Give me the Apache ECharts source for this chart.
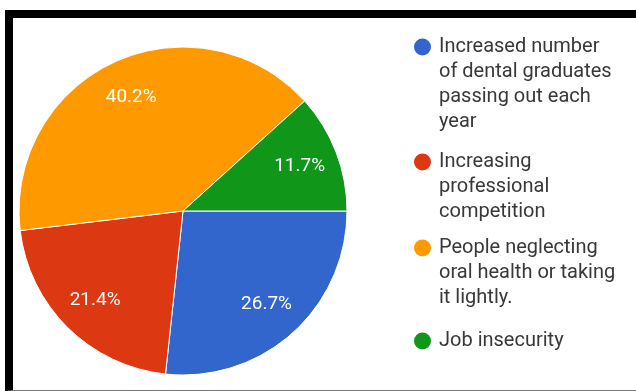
<!DOCTYPE html>
<html>
<head>
<meta charset="utf-8">
<title>Pie chart</title>
<script src="https://cdn.jsdelivr.net/npm/echarts@6/dist/echarts.min.js"></script>
<style>
  html, body { margin: 0; padding: 0; background: #fff; }
  #wrap { position: relative; width: 636px; height: 391px; overflow: hidden; }
  #chart { position: absolute; left: 0; top: 0; width: 636px; height: 391px; }
  #frame {
    position: absolute; left: 5px; top: 10px; width: 640px; height: 381px;
    box-sizing: border-box;
    border-left: 8px solid #000; border-top: 8px solid #000;
    border-right: 9px solid #000; border-bottom: 1px solid #777;
    pointer-events: none;
  }
</style>
</head>
<body>
<div id="wrap">
  <div id="chart"></div>
  <div id="frame"></div>
</div>
<script>
// Survey responses: reasons given, with their share of answers (%)
const categories = [
  'Increased number of dental graduates passing out each year',
  'Increasing professional competition',
  'People neglecting oral health or taking it lightly.',
  'Job insecurity'
];
const legendLines = [
  ['Increased number', 'of dental graduates', 'passing out each', 'year'],
  ['Increasing', 'professional', 'competition'],
  ['People neglecting', 'oral health or taking', 'it lightly.'],
  ['Job insecurity']
];
const shares = [26.7, 21.4, 40.2, 11.7];
const colors = ['#3366cc', '#dc3912', '#ff9900', '#109618'];

const FONT = 'Roboto, "Noto Sans", sans-serif';
const LINE_H = 25;
// vertical centre of the first text line of each legend entry
const legendRowY = [47, 162, 248, 341];

const data = categories.map((name, i) => ({
  name: name,
  value: shares[i],
  itemStyle: { color: colors[i] }
}));

// One legend block per entry. The legend centres its text on the marker,
// so blank lines are put in front to bring the first real line level with it.
const legends = categories.map((name, i) => {
  const n = legendLines[i].length;
  const lead = new Array(n - 1).fill(' ');
  return {
    data: [name],
    orient: 'vertical',
    left: 412,
    top: legendRowY[i] - (2 * n - 1) * LINE_H / 2,
    padding: 0,
    icon: 'circle',
    itemWidth: 23,
    itemHeight: 19,
    selectedMode: false,
    formatter: () => lead.concat(legendLines[i]).join('\n'),
    textStyle: {
      fontFamily: FONT,
      fontSize: 20,
      lineHeight: LINE_H,
      color: '#383838'
    }
  };
});

const chart = echarts.init(document.getElementById('chart'), null, { renderer: 'canvas' });
chart.setOption({
  animation: false,
  backgroundColor: '#fff',
  legend: legends,
  series: [
    {
      type: 'pie',
      center: [183, 211],
      radius: 164,
      startAngle: 0,
      clockwise: true,
      silent: true,
      label: { show: false },
      labelLine: { show: false },
      itemStyle: { borderColor: '#fff', borderWidth: 1 },
      emphasis: { disabled: true },
      data: data
    },
    {
      // ring carrying the percentage labels, placed toward the rim
      type: 'pie',
      center: [183, 211],
      radius: [80, 164],
      startAngle: 0,
      clockwise: true,
      silent: true,
      itemStyle: { color: 'rgba(0,0,0,0)', borderWidth: 0 },
      emphasis: { disabled: true },
      label: {
        show: true,
        position: 'inside',
        formatter: '{c}%',
        fontFamily: FONT,
        fontSize: 19,
        color: '#fff'
      },
      labelLine: { show: false },
      data: categories.map((name, i) => ({ name: name, value: shares[i] }))
    }
  ]
});
</script>
</body>
</html>
